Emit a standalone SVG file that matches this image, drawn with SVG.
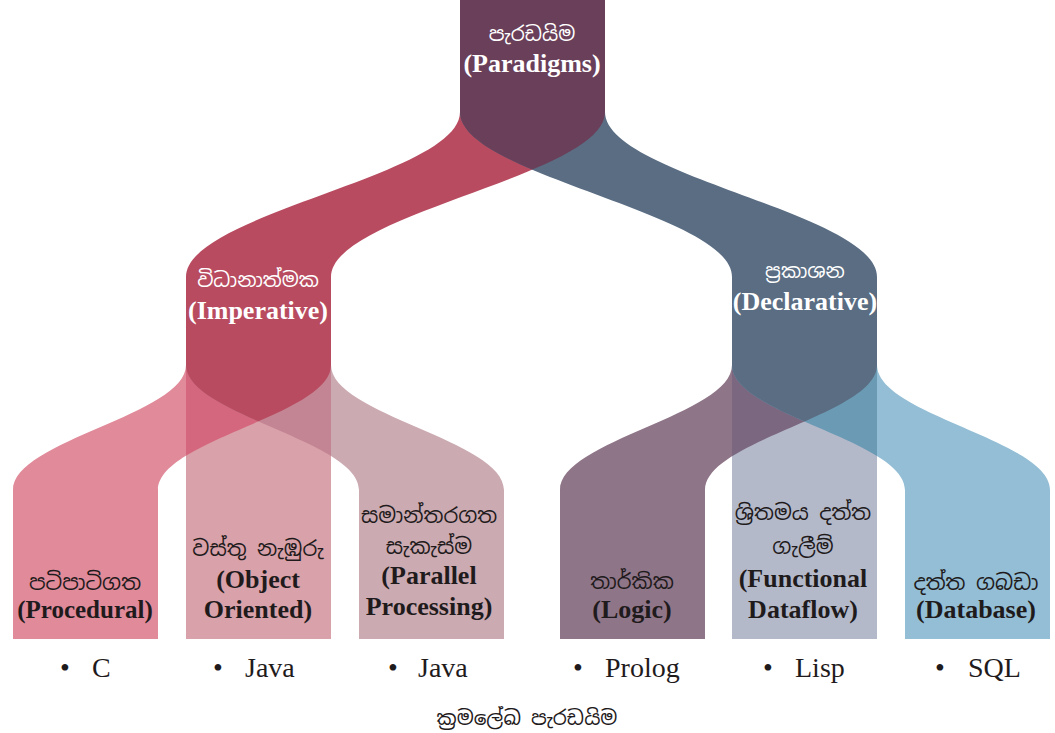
<svg xmlns="http://www.w3.org/2000/svg" xmlns:xlink="http://www.w3.org/1999/xlink" width="1055" height="733" viewBox="0 0 1055 733">
<style>
.si{font-family:"Noto Sans Sinhala","Noto Serif Sinhala","Iskoola Pota","Liberation Serif",serif;text-anchor:middle}
.en{font-family:"Liberation Serif","Times New Roman",serif;font-weight:bold;text-anchor:middle}
.w{fill:#ffffff}
.d{fill:#1f1b1c}
.lang{font-family:"Liberation Serif","Times New Roman",serif;font-size:28px;fill:#1f1b1c}
</style>
<defs>
<path id="red" d="M460,0 L605,0 L605,112 C605,176 331,213 331,277 L331,380 L186,380 L186,277 C186,213 460,176 460,112 Z"/>
<path id="blue" d="M460,0 L605,0 L605,112 C605,176 877,213 877,277 L877,380 L732,380 L732,277 C732,213 460,176 460,112 Z"/>
<path id="iL" d="M186,330 L331,330 L331,365 C331,415 158,440 158,490 L158,639 L13,639 L13,490 C13,440 186,415 186,365 Z"/>
<path id="iR" d="M186,330 L331,330 L331,365 C331,415 504,440 504,490 L504,639 L359,639 L359,490 C359,440 186,415 186,365 Z"/>
<rect id="iM" x="186" y="330" width="145" height="309"/>
<path id="dL" d="M732,330 L877,330 L877,365 C877,415 705,440 705,490 L705,639 L560,639 L560,490 C560,440 732,415 732,365 Z"/>
<path id="dR" d="M732,330 L877,330 L877,365 C877,415 1050,440 1050,490 L1050,639 L905,639 L905,490 C905,440 732,415 732,365 Z"/>
<rect id="dM" x="732" y="330" width="145" height="309"/>
<clipPath id="cRed"><use xlink:href="#red"/></clipPath>
<clipPath id="ciL"><use xlink:href="#iL"/></clipPath>
<clipPath id="ciR"><use xlink:href="#iR"/></clipPath>
<clipPath id="cdL"><use xlink:href="#dL"/></clipPath>
<clipPath id="cdR"><use xlink:href="#dR"/></clipPath>
</defs>
<rect width="1055" height="733" fill="#ffffff"/>
<g id="connectors">
<use xlink:href="#red" fill="#b84b60"/>
<use xlink:href="#blue" fill="#5a6d83"/>
<use xlink:href="#blue" fill="#6a3f59" clip-path="url(#cRed)"/>
<use xlink:href="#iL" fill="#e08a9a"/>
<use xlink:href="#iR" fill="#cbaab1"/>
<use xlink:href="#iM" fill="#d9a1a9"/>
<use xlink:href="#iM" fill="#d4677d" clip-path="url(#ciL)"/>
<use xlink:href="#iM" fill="#c38593" clip-path="url(#ciR)"/>
<use xlink:href="#iR" fill="#b84b60" clip-path="url(#ciL)"/>
<use xlink:href="#dL" fill="#8f7588"/>
<use xlink:href="#dR" fill="#93bed5"/>
<use xlink:href="#dM" fill="#b4b9ca"/>
<use xlink:href="#dM" fill="#7b6880" clip-path="url(#cdL)"/>
<use xlink:href="#dM" fill="#6b9bb4" clip-path="url(#cdR)"/>
<use xlink:href="#dR" fill="#5a6d83" clip-path="url(#cdL)"/>
</g>
<g id="paradigms">
<text class="si w" x="532" y="41" font-size="20">පැරඩයිම</text>
<text class="en w" x="532" y="72" font-size="26">(Paradigms)</text>
</g>
<g id="imperative">
<text class="si w" x="258" y="287" font-size="20">විධානාත්මක</text>
<text class="en w" x="258" y="319" font-size="26">(Imperative)</text>
</g>
<g id="declarative">
<text class="si w" x="805" y="278" font-size="20">ප්‍රකාශන</text>
<text class="en w" x="805" y="310" font-size="26">(Declarative)</text>
</g>
<g id="procedural">
<text class="si d" x="85" y="590" font-size="21">පටිපාටිගත</text>
<text class="en d" x="85" y="618" font-size="25">(Procedural)</text>
</g>
<g id="object-oriented">
<text class="si d" x="258" y="556" font-size="21">වස්තු නැඹුරු</text>
<text class="en d" x="258" y="588" font-size="26">(Object</text>
<text class="en d" x="258" y="618" font-size="26">Oriented)</text>
</g>
<g id="parallel">
<text class="si d" x="429" y="523" font-size="21">සමාන්තරගත</text>
<text class="si d" x="429" y="554" font-size="21">සැකැස්ම</text>
<text class="en d" x="429" y="584" font-size="26">(Parallel</text>
<text class="en d" x="429" y="615" font-size="26">Processing)</text>
</g>
<g id="logic">
<text class="si d" x="632" y="589" font-size="21">තාර්කික</text>
<text class="en d" x="632" y="618" font-size="26">(Logic)</text>
</g>
<g id="functional">
<text class="si d" x="803" y="520" font-size="21">ශ්‍රිතමය දත්ත</text>
<text class="si d" x="803" y="554" font-size="21">ගැලීම්</text>
<text class="en d" x="803" y="587" font-size="26">(Functional</text>
<text class="en d" x="803" y="618" font-size="26">Dataflow)</text>
</g>
<g id="database">
<text class="si d" x="976" y="590" font-size="21">දත්ත ගබඩා</text>
<text class="en d" x="976" y="618" font-size="26">(Database)</text>
</g>
<g id="languages">
<text class="lang" x="65" y="677" text-anchor="middle">•</text><text class="lang" x="92" y="677">C</text>
<text class="lang" x="218" y="677" text-anchor="middle">•</text><text class="lang" x="245" y="677">Java</text>
<text class="lang" x="393" y="677" text-anchor="middle">•</text><text class="lang" x="418" y="677">Java</text>
<text class="lang" x="578" y="677" text-anchor="middle">•</text><text class="lang" x="605" y="677">Prolog</text>
<text class="lang" x="768" y="677" text-anchor="middle">•</text><text class="lang" x="795" y="677">Lisp</text>
<text class="lang" x="940" y="677" text-anchor="middle">•</text><text class="lang" x="968" y="677">SQL</text>
</g>
<g id="caption">
<text class="si d" x="527" y="725" font-size="20">ක්‍රමලේඛ පැරඩයිම</text>
</g>
</svg>
